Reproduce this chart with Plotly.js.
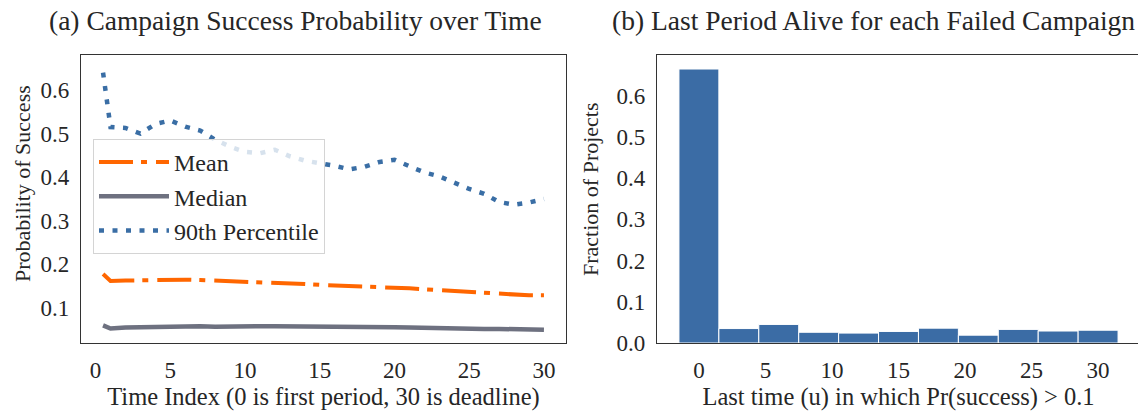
<!DOCTYPE html>
<html>
<head>
<meta charset="utf-8">
<script src="https://cdn.plot.ly/plotly-3.0.1.min.js"></script>
<style>
html,body{margin:0;padding:0;overflow:hidden;background:#fff;}
#chart{width:1140px;height:411px;}
</style>
</head>
<body>
<div id="chart"></div>
<script>
// ---- data ----
const timeIndex = [0.5,1,2,3,4,5,6,7,8,9,10,11,12,13,14,15,16,17,18,19,20,21,22,23,24,25,26,27,28,29,30];
const meanProb = [0.178,0.162,0.163,0.164,0.165,0.165,0.165,0.164,0.163,0.162,0.161,0.160,0.159,0.157,0.155,0.153,0.152,0.151,0.150,0.149,0.147,0.145,0.143,0.141,0.139,0.137,0.134,0.131,0.129,0.129,0.129];
const medianProb = [0.060,0.053,0.055,0.056,0.056,0.057,0.058,0.058,0.057,0.058,0.058,0.058,0.058,0.058,0.057,0.057,0.056,0.056,0.056,0.056,0.056,0.055,0.054,0.054,0.053,0.053,0.052,0.052,0.051,0.051,0.050];
const p90Prob = [0.640,0.515,0.513,0.500,0.522,0.530,0.516,0.507,0.486,0.470,0.458,0.455,0.463,0.448,0.438,0.433,0.426,0.418,0.424,0.435,0.440,0.425,0.411,0.402,0.388,0.373,0.362,0.343,0.337,0.342,0.350];
const seriesNames = ["Mean","Median","90th Percentile"];

const binCenters = [0,3,6,9,12,15,18,21,24,27,30];
const binFractions = [0.664,0.035,0.045,0.026,0.024,0.028,0.036,0.019,0.033,0.029,0.031];
const binWidth = 3;

const titleA = "(a) Campaign Success Probability over Time";
const titleB = "(b) Last Period Alive for each Failed Campaign";
const xTitleA = "Time Index (0 is first period, 30 is deadline)";
const yTitleA = "Probability of Success";
const xTitleB = "Last time (u) in which Pr(success) > 0.1";
const yTitleB = "Fraction of Projects";

// ---- styling ----
const FONT = "'Liberation Serif', 'Times New Roman', serif";
const TXT = "#262626";
const W = 1140;
const PH = 288; // plot-area height in px (paper y unit)
const py = (px) => (343 - px) / PH;

const traces = [
  {x: timeIndex, y: meanProb, name: seriesNames[0], type: "scatter", mode: "lines",
   line: {color: "#ff6600", width: 4, dash: "34px,8px,6px,9px"}, xaxis: "x", yaxis: "y"},
  {x: timeIndex, y: medianProb, name: seriesNames[1], type: "scatter", mode: "lines",
   line: {color: "#6e7180", width: 4.5}, xaxis: "x", yaxis: "y"},
  {x: timeIndex, y: p90Prob, name: seriesNames[2], type: "scatter", mode: "lines",
   line: {color: "#3a6ea5", width: 4.5, dash: "5px,8.5px"}, xaxis: "x", yaxis: "y"},
  {x: binCenters, y: binFractions, width: binWidth, type: "bar", showlegend: false,
   marker: {color: "#3b6ca5", line: {color: "#ffffff", width: 1}}, xaxis: "x2", yaxis: "y2"}
];

const axBase = {
  showline: true, mirror: true, linecolor: "#333333", linewidth: 1.3,
  showgrid: false, zeroline: false, ticks: "", ticklabelstandoff: 6,
  tickfont: {family: FONT, size: 23, color: TXT}
};

const layout = {
  width: W, height: 411,
  margin: {l: 0, r: 0, t: 55, b: 68, pad: 0},
  paper_bgcolor: "#ffffff", plot_bgcolor: "#ffffff",
  font: {family: FONT, color: TXT},
  showlegend: true,
  legend: {x: 93/W, y: py(139), xanchor: "left", yanchor: "top", itemwidth: 70,
    bgcolor: "rgba(255,255,255,0.8)", bordercolor: "#d4d4d4", borderwidth: 1,
    font: {family: FONT, size: 24, color: TXT}, tracegroupgap: 0},
  xaxis: Object.assign({}, axBase, {domain: [81/W, 566/W], range: [-0.975, 31.475],
    tickvals: [0,5,10,15,20,25,30], anchor: "y",
    title: {text: xTitleA, font: {family: FONT, size: 24.5, color: TXT}, standoff: 0}}),
  yaxis: Object.assign({}, axBase, {domain: [0, 1], range: [0.0197, 0.6803],
    tickvals: [0.1,0.2,0.3,0.4,0.5,0.6], tickformat: ".1f", anchor: "x"}),
  xaxis2: Object.assign({}, axBase, {domain: [657/W, 1], range: [-3.15, 33.15],
    tickvals: [0,5,10,15,20,25,30], anchor: "y2",
    title: {text: xTitleB, font: {family: FONT, size: 24.5, color: TXT}, standoff: 0}}),
  yaxis2: Object.assign({}, axBase, {domain: [0, 1], range: [0, 0.698],
    tickvals: [0,0.1,0.2,0.3,0.4,0.5,0.6], tickformat: ".1f", anchor: "x2"}),
  annotations: [
    {text: titleA, xref: "paper", yref: "paper", x: 295/W, y: py(21), xanchor: "center", yanchor: "middle",
     showarrow: false, font: {family: FONT, size: 27.5, color: TXT}},
    {text: titleB, xref: "paper", yref: "paper", x: 873/W, y: py(21), xanchor: "center", yanchor: "middle",
     showarrow: false, font: {family: FONT, size: 27.5, color: TXT}},
    {text: yTitleA, xref: "paper", yref: "paper", x: 22/W, y: py(184), xanchor: "center", yanchor: "middle",
     textangle: -90, showarrow: false, font: {family: FONT, size: 22, color: TXT}},
    {text: yTitleB, xref: "paper", yref: "paper", x: 590/W, y: py(189), xanchor: "center", yanchor: "middle",
     textangle: -90, showarrow: false, font: {family: FONT, size: 22, color: TXT}}
  ]
};

Plotly.newPlot("chart", traces, layout, {displayModeBar: false, responsive: false});
</script>
</body>
</html>
